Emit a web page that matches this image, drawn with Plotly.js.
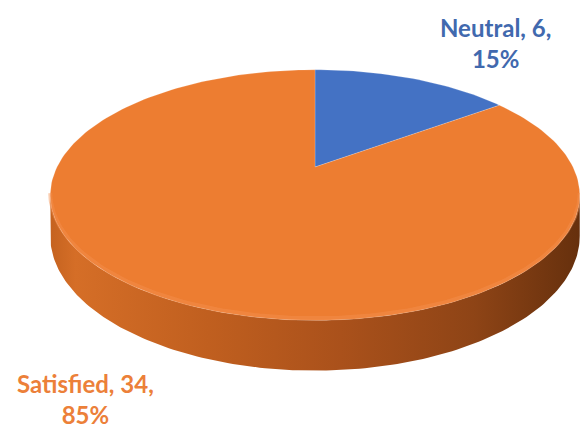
<!DOCTYPE html>
<html>
<head>
<meta charset="utf-8">
<script src="https://cdn.plot.ly/plotly-3.0.1.min.js"></script>
<style>html,body{margin:0;padding:0;background:#fff;}#chart{width:580px;height:432px;}</style>
</head>
<body>
<div id="chart"></div>
<script>
// ---- data ----
const labels = ['Neutral', 'Satisfied'];
const values = [6, 34];
const sliceColors = ['#4472C4', '#ED7D31'];
const labelColors = ['#4169AE', '#EC8039'];

// ---- 3D pie geometry (perspective projection of a tilted disc) ----
const cx = 315, cy = 167;      // projected centre of the top face
const A = 258, B = 119;        // horizontal / depth scale
const k = 0.224;               // perspective strength
const H = 39;                  // side thickness
function proj(theta, drop) {   // theta: clockwise from 12 o'clock, radians
  const X = Math.sin(theta), Z = -Math.cos(theta);
  const w = 1 - k * Z;
  return [cx + A * X / w, cy + B * Z / w + (drop ? H / w : 0)];
}

const total = values.reduce((a, b) => a + b, 0);
const traces = [];

// side wall (front half, visible)
const tR = Math.PI / 2 + Math.asin(k);      // right silhouette
const tL = 3 * Math.PI / 2 - Math.asin(k);  // left silhouette
const sx = [], sy = [];
const N = 160;
for (let i = 0; i <= N; i++) { const t = tR + (tL - tR) * i / N; const p = proj(t, false); sx.push(p[0]); sy.push(p[1]); }
for (let i = N; i >= 0; i--) { const t = tR + (tL - tR) * i / N; const p = proj(t, true); sx.push(p[0]); sy.push(p[1]); }
sx.push(sx[0]); sy.push(sy[0]);
traces.push({
  type: 'scatter', mode: 'lines', x: sx, y: sy, fill: 'toself',
  line: { width: 0, color: 'rgba(0,0,0,0)' },
  fillcolor: '#B5561C',
  fillgradient: {
    type: 'horizontal', start: 49, stop: 580,
    colorscale: [[0, '#C4621F'], [0.05, '#D56E27'], [0.3, '#C05F1F'], [0.55, '#AA511B'], [0.8, '#8E4416'], [1, '#66300D']]
  },
  hoverinfo: 'skip', showlegend: false
});

// top-face slices
let acc = 0;
values.forEach((v, i) => {
  const a0 = acc / total * 2 * Math.PI;
  acc += v;
  const a1 = acc / total * 2 * Math.PI;
  const xs = [cx], ys = [cy];
  const n = Math.max(8, Math.round(240 * v / total));
  for (let j = 0; j <= n; j++) { const p = proj(a0 + (a1 - a0) * j / n, false); xs.push(p[0]); ys.push(p[1]); }
  xs.push(cx); ys.push(cy);
  traces.push({
    type: 'scatter', mode: 'lines', x: xs, y: ys, fill: 'toself',
    fillcolor: sliceColors[i], line: { width: 0.6, color: 'rgba(255,255,255,0.3)' },
    name: labels[i], hoverinfo: 'name', showlegend: false
  });
});

// soft rim highlight along the front edge of the top face
const rx = [], ry = [];
for (let i = 0; i <= N; i++) { const t = tR + (tL - tR) * i / N; const p = proj(t, false); rx.push(p[0]); ry.push(p[1] - 2); }
traces.push({ type: 'scatter', mode: 'lines', x: rx, y: ry, line: { width: 4, color: 'rgba(244,145,80,0.45)' }, hoverinfo: 'skip', showlegend: false });

// data labels
const labelPos = [[495, 43], [85, 399]];
const annotations = values.map((v, i) => ({
  x: labelPos[i][0], y: labelPos[i][1], xref: 'x', yref: 'y',
  text: '<b>' + labels[i] + ', ' + v + ',<br>' + Math.round(v / total * 100) + '%</b>',
  showarrow: false, align: 'center',
  font: { family: 'Lato, "Open Sans", sans-serif', size: 24, color: labelColors[i] }
}));

Plotly.newPlot('chart', traces, {
  width: 580, height: 432,
  margin: { l: 0, r: 0, t: 0, b: 0 },
  paper_bgcolor: '#ffffff', plot_bgcolor: '#ffffff',
  xaxis: { range: [0, 580], visible: false, fixedrange: true },
  yaxis: { range: [432, 0], visible: false, fixedrange: true },
  annotations: annotations,
  showlegend: false
}, { displayModeBar: false, staticPlot: true });
</script>
</body>
</html>
